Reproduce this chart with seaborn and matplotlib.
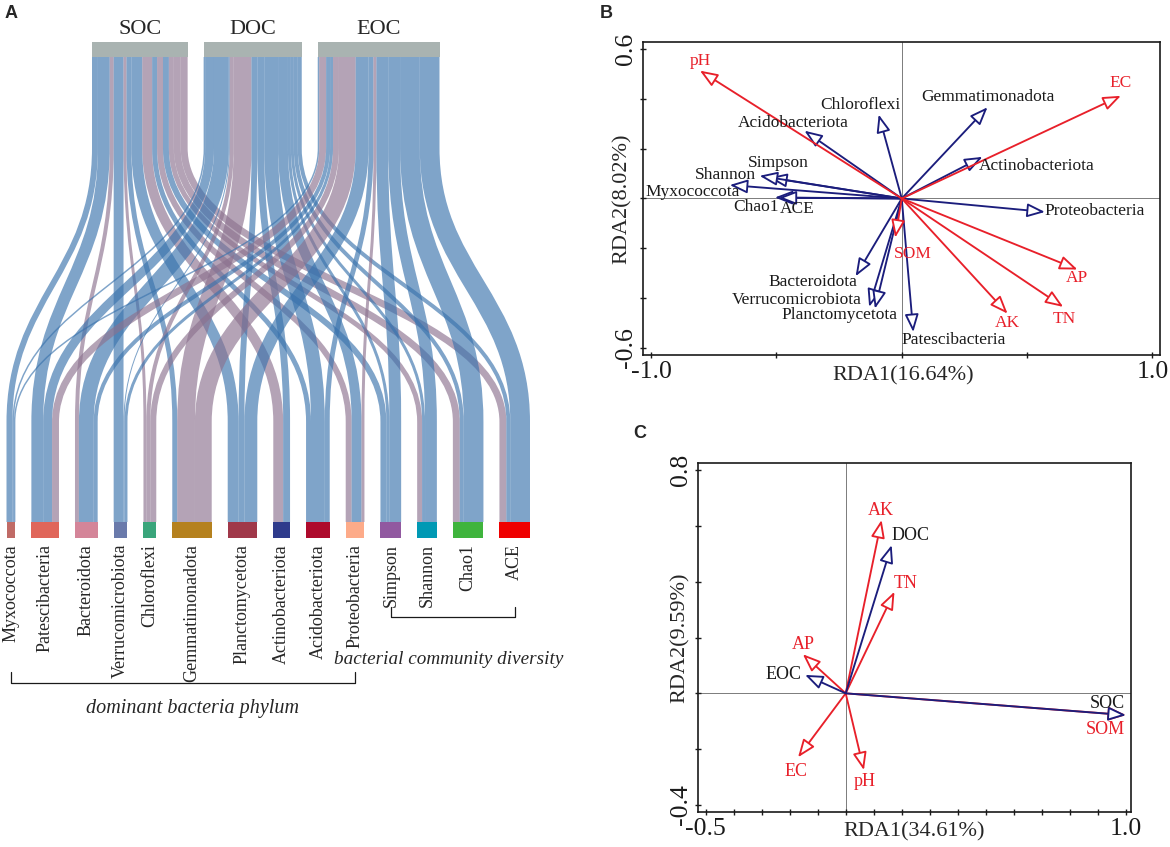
import numpy as np
import seaborn as sns
import matplotlib.pyplot as plt
from matplotlib.path import Path
from matplotlib.patches import PathPatch, Rectangle

# ----------------------------- dati -----------------------------

# pannello A: legami tra frazioni di carbonio e batteri (segno + blu, - malva)
carbon = ['SOC', 'DOC', 'EOC']
taxa = ['Myxococcota', 'Patescibacteria', 'Bacteroidota', 'Verrucomicrobiota', 'Chloroflexi',
        'Gemmatimonadota', 'Planctomycetota', 'Actinobacteriota', 'Acidobacteriota',
        'Proteobacteria', 'Simpson', 'Shannon', 'Chao1', 'ACE']
soc_links = [6, 12, -4, 10, -3, 5, 11, -10, 5, -6, 6, -5, -7, -7]
doc_links = [1.5, 9, 15, 1, -4, -18, 6, 7, 14, 10, 3, 3, 4, 4]
eoc_links = [1.5, -7, 4, 3, -6, -17, 13, 0, 5, -3, 12, 12, 20, 20]
taxa_colors = ['#c06b66', '#e0665a', '#d48599', '#6a7aab', '#3aa57b', '#b5811e', '#a03849',
               '#2e3b8c', '#ae0a2c', '#fdab89', '#9159a0', '#0099b4', '#3fb43d', '#ef0000']

# pannello B: RDA batteri ~ fattori ambientali
env_b = ['pH', 'EC', 'AP', 'TN', 'AK', 'SOM']
env_b_x = [-0.805, 0.874, 0.701, 0.644, 0.422, -0.026]
env_b_y = [0.513, 0.412, -0.285, -0.435, -0.462, -0.157]
bac_b = ['Gemmatimonadota', 'Chloroflexi', 'Acidobacteriota', 'Actinobacteriota', 'Simpson',
         'Shannon', 'Myxococcota', 'Chao1', 'ACE', 'Proteobacteria', 'Bacteroidota',
         'Verrucomicrobiota', 'Planctomycetota', 'Patescibacteria']
bac_b_x = [0.342, -0.092, -0.388, 0.322, -0.529, -0.567, -0.686, -0.506, -0.491, 0.571,
           -0.184, -0.130, -0.107, 0.046]
bac_b_y = [0.366, 0.337, 0.272, 0.167, 0.084, 0.091, 0.054, 0.004, 0.003, -0.054,
           -0.312, -0.435, -0.442, -0.536]

# pannello C: RDA frazioni di carbonio ~ fattori ambientali
env_c = ['AK', 'TN', 'AP', 'EC', 'pH', 'SOM']
env_c_x = [0.128, 0.174, -0.153, -0.170, 0.065, 1.0]
env_c_y = [0.621, 0.364, 0.140, -0.229, -0.275, -0.078]
carb_c = ['DOC', 'EOC', 'SOC']
carb_c_x = [0.164, -0.145, 1.0]
carb_c_y = [0.531, 0.066, -0.078]

# posizioni delle etichette (layout)
lab_b = {'pH': (-0.805, 0.55), 'EC': (0.874, 0.462), 'AP': (0.699, -0.321), 'TN': (0.649, -0.482),
         'AK': (0.422, -0.50), 'SOM': (0.043, -0.221),
         'Gemmatimonadota': (0.342, 0.406), 'Chloroflexi': (-0.166, 0.374),
         'Acidobacteriota': (-0.434, 0.304), 'Actinobacteriota': (0.537, 0.131),
         'Simpson': (-0.491, 0.141), 'Shannon': (-0.702, 0.096), 'Myxococcota': (-0.836, 0.027),
         'Chao1': (-0.583, -0.036), 'ACE': (-0.417, -0.044), 'Proteobacteria': (0.771, -0.051),
         'Bacteroidota': (-0.353, -0.337), 'Verrucomicrobiota': (-0.417, -0.408),
         'Planctomycetota': (-0.248, -0.469), 'Patescibacteria': (0.207, -0.569)}
lab_c = {'AK': (0.126, 0.654), 'DOC': (0.233, 0.565), 'TN': (0.214, 0.394), 'AP': (-0.151, 0.176),
         'EOC': (-0.223, 0.068), 'SOC': (0.933, -0.036), 'SOM': (0.925, -0.128),
         'EC': (-0.176, -0.281), 'pH': (0.067, -0.316)}

RED = '#e8202a'
NAVY = '#1b1d7c'
POS = '#3a73ad'
NEG = '#8c728f'

# ----------------------------- stile -----------------------------
sns.set_theme(style='white')
plt.rcParams['font.family'] = ['Liberation Serif', 'DejaVu Serif']
plt.rcParams['mathtext.default'] = 'regular'

W, H = 1170, 847
fig = plt.figure(figsize=(W / 100, H / 100), dpi=100)


def px_axes(x0, y0, x1, y1):
    return fig.add_axes([x0 / W, 1 - y1 / H, (x1 - x0) / W, (y1 - y0) / H])


# ----------------------------- pannello A -----------------------------
ax = px_axes(0, 0, 560, H)
ax.set_xlim(0, 560)
ax.set_ylim(H, 0)
ax.axis('off')

links = np.array([soc_links, doc_links, eoc_links], dtype=float)
wts = np.abs(links)
gap = 16
left, right = 6.5, 530
scale = (right - left - gap * (len(taxa) - 1)) / wts.sum()
tgt_w = wts.sum(axis=0) * scale
tgt_x = left + np.concatenate([[0], np.cumsum(tgt_w[:-1] + gap)])
src_w = wts.sum(axis=1) * scale
src_x = 92 + np.concatenate([[0], np.cumsum(src_w[:-1] + gap)])

y_top, y_b0, y_b1, y_bot = 57, 148, 422, 522
c = 0.45 * (y_b1 - y_b0)
codes = [Path.MOVETO, Path.LINETO, Path.CURVE4, Path.CURVE4, Path.CURVE4, Path.LINETO]
for i in range(len(carbon)):
    cur = src_x[i]
    for j in range(len(taxa)):
        ww = wts[i, j] * scale
        if ww == 0:
            continue
        xt = cur + ww / 2
        cur += ww
        xb = tgt_x[j] + wts[:i, j].sum() * scale + ww / 2
        verts = [(xt, y_top), (xt, y_b0), (xt, y_b0 + c), (xb, y_b1 - c), (xb, y_b1), (xb, y_bot)]
        col = POS if links[i, j] > 0 else NEG
        ax.add_patch(PathPatch(Path(verts, codes), fill=False, ec=col, alpha=0.65,
                               lw=ww * 0.72, capstyle='butt'))

for i, name in enumerate(carbon):
    ax.add_patch(Rectangle((src_x[i], 42), src_w[i], 15, color='#a9b3b1', lw=0))
    ax.text(src_x[i] + src_w[i] / 2, 29, name, fontsize=16, ha='center', va='center')

centers = tgt_x + tgt_w / 2
for j, name in enumerate(taxa):
    ax.add_patch(Rectangle((tgt_x[j], 522), tgt_w[j], 16, color=taxa_colors[j], lw=0))
    ax.text(centers[j], 544, name, fontsize=13, rotation=90, ha='center', va='top')

# parentesi
ax.plot([centers[0], centers[0], centers[9], centers[9]], [672, 683, 683, 672], color='k', lw=0.9)
ax.text(192, 708, 'dominant bacteria phylum', fontsize=14.5, style='italic', ha='center', va='center')
ax.plot([centers[10], centers[10], centers[13], centers[13]], [607, 617, 617, 607], color='k', lw=0.9)
ax.text(334, 659, 'bacterial community diversity', fontsize=13.8, style='italic', ha='left', va='center')

ax.text(5, 14, 'A', fontsize=13, fontweight='bold', family='Liberation Sans', va='center')


# ----------------------------- RDA -----------------------------
def rda_panel(ax, xlim, ylim, xticks, xlabels, yticks, ylabels, xlab, ylab, xlab_pos, ylab_pos):
    ax.set_xlim(*xlim)
    ax.set_ylim(*ylim)
    ax.axhline(0, color='#666666', lw=0.6, zorder=0)
    ax.axvline(0, color='#666666', lw=0.6, zorder=0)
    ax.set_xticks(xticks)
    ax.set_xticklabels(xlabels, fontsize=18.5)
    ax.set_yticks(yticks)
    ax.set_yticklabels(ylabels, fontsize=18.5, rotation=90, va='center')
    ax.tick_params(direction='inout', length=5, width=1, colors='k', pad=2,
                   bottom=True, left=True)
    for s in ax.spines.values():
        s.set_color('k')
        s.set_linewidth(1.2)
    ax.set_xlabel(xlab, fontsize=16)
    ax.set_ylabel(ylab, fontsize=16)
    ax.xaxis.set_label_coords(*xlab_pos)
    ax.yaxis.set_label_coords(*ylab_pos)
    ax.xaxis.label.set_va('center')
    ax.yaxis.label.set_va('center')


def arrows(ax, xs, ys, color):
    for x, y in zip(xs, ys):
        ax.annotate('', xy=(x, y), xytext=(0, 0),
                    arrowprops=dict(arrowstyle='-|>,head_length=0.9,head_width=0.35',
                                    ec=color, fc='white', lw=1.35, shrinkA=0, shrinkB=0))


# pannello B
axb = px_axes(643, 42, 1160, 355)
rda_panel(axb, (-1.032, 1.03), (-0.628, 0.628),
          [-1, -0.5, 0, 0.5, 1], ['-1.0', '', '', '', '1.0'],
          np.round(np.arange(-0.6, 0.61, 0.2), 1), ['-0.6', '', '', '', '', '', '0.6'],
          'RDA1(16.64%)', 'RDA2(8.02%)', (0.503, -0.067), (-0.041, 0.5))
arrows(axb, bac_b_x, bac_b_y, NAVY)
arrows(axb, env_b_x, env_b_y, RED)
for name in env_b:
    axb.text(*lab_b[name], name, color=RED, fontsize=12.5, ha='center', va='center')
for name in bac_b:
    axb.text(*lab_b[name], name, color='k', fontsize=12.5, ha='center', va='center')
fig.text(600 / W, 1 - 14 / H, 'B', fontsize=13, fontweight='bold', family='Liberation Sans', va='center')

# pannello C
axc = px_axes(698, 463, 1131, 812)
rda_panel(axc, (-0.527, 1.018), (-0.425, 0.825),
          np.round(np.arange(-0.5, 1.01, 0.1), 1), ['-0.5'] + [''] * 14 + ['1.0'],
          np.round(np.arange(-0.4, 0.81, 0.2), 1), ['-0.4', '', '', '', '', '', '0.8'],
          'RDA1(34.61%)', 'RDA2(9.59%)', (0.50, -0.057), (-0.042, 0.5))
arrows(axc, env_c_x, env_c_y, RED)
arrows(axc, carb_c_x, carb_c_y, NAVY)
for name in env_c:
    axc.text(*lab_c[name], name, color=RED, fontsize=13, ha='center', va='center')
for name in carb_c:
    axc.text(*lab_c[name], name, color='k', fontsize=13, ha='center', va='center')
fig.text(633 / W, 1 - 434 / H, 'C', fontsize=13, fontweight='bold', family='Liberation Sans', va='center')

fig.savefig('out.png', dpi=100)
